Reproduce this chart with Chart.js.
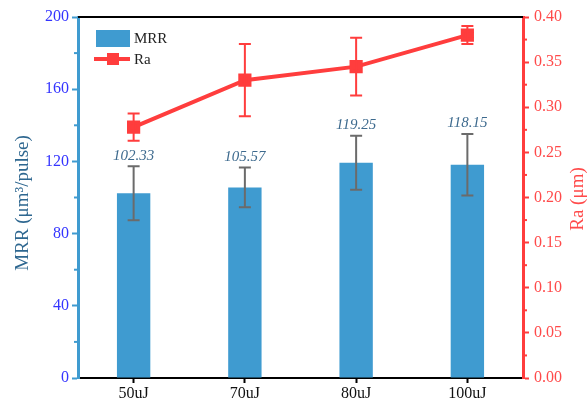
<!DOCTYPE html>
<html><head><meta charset="utf-8">
<script src="https://cdn.jsdelivr.net/npm/chart.js@4"></script>
<style>html,body{margin:0;padding:0;background:#fff}#w{width:587px;height:405px}</style>
</head><body><div id="w"><canvas id="c"></canvas></div>
<script>
const categories = ['50uJ', '70uJ', '80uJ', '100uJ'];
const mrrValues = [102.33, 105.57, 119.25, 118.15];
const mrrErrors = [15, 11, 15, 17];
const raValues = [0.278, 0.330, 0.345, 0.380];
const raErrors = [0.015, 0.040, 0.032, 0.010];
const leftTicks = [0, 40, 80, 120, 160, 200];
const rightTicks = [0, 0.05, 0.10, 0.15, 0.20, 0.25, 0.30, 0.35, 0.40];
const leftTitle = 'MRR (μm³/pulse)';
const rightTitle = 'Ra (μm)';

const FONT = "'Liberation Serif', 'Times New Roman', serif";
const BLUE = '#3f9bd0', RED = '#ff3d3d', LBL = '#3434ff';

const extras = {
  id: 'extras',
  afterDatasetsDraw(chart) {
    const ctx = chart.ctx, ca = chart.chartArea;
    const x = chart.scales.x, y = chart.scales.y, y2 = chart.scales.y2;
    ctx.save();
    // top border
    ctx.strokeStyle = '#000'; ctx.lineWidth = 2;
    ctx.beginPath(); ctx.moveTo(ca.left, ca.top); ctx.lineTo(ca.right, ca.top); ctx.stroke();
    // minor ticks
    ctx.lineWidth = 2;
    ctx.strokeStyle = BLUE;
    for (let i = 0; i < leftTicks.length - 1; i++) {
      const v = (leftTicks[i] + leftTicks[i+1]) / 2, py = y.getPixelForValue(v);
      ctx.beginPath(); ctx.moveTo(ca.left, py); ctx.lineTo(ca.left - 4, py); ctx.stroke();
    }
    ctx.strokeStyle = RED;
    for (let i = 0; i < rightTicks.length - 1; i++) {
      const v = (rightTicks[i] + rightTicks[i+1]) / 2, py = y2.getPixelForValue(v);
      ctx.beginPath(); ctx.moveTo(ca.right, py); ctx.lineTo(ca.right + 4, py); ctx.stroke();
    }
    // MRR error bars
    const cap = 6;
    ctx.strokeStyle = '#6b6b6b'; ctx.lineWidth = 2;
    mrrValues.forEach((v, i) => {
      const px = x.getPixelForValue(i);
      const t = y.getPixelForValue(v + mrrErrors[i]), b = y.getPixelForValue(v - mrrErrors[i]);
      ctx.beginPath();
      ctx.moveTo(px, t); ctx.lineTo(px, b);
      ctx.moveTo(px - cap, t); ctx.lineTo(px + cap, t);
      ctx.moveTo(px - cap, b); ctx.lineTo(px + cap, b);
      ctx.stroke();
      ctx.fillStyle = '#3d6a8e';
      ctx.font = 'italic 15px ' + FONT;
      ctx.textAlign = 'center'; ctx.textBaseline = 'bottom';
      ctx.fillText(v.toFixed(2), px, t - 3);
    });
    // Ra error bars
    ctx.strokeStyle = RED; ctx.lineWidth = 2;
    raValues.forEach((v, i) => {
      const px = x.getPixelForValue(i);
      const t = y2.getPixelForValue(v + raErrors[i]), b = y2.getPixelForValue(v - raErrors[i]);
      ctx.beginPath();
      ctx.moveTo(px, t); ctx.lineTo(px, b);
      ctx.moveTo(px - cap, t); ctx.lineTo(px + cap, t);
      ctx.moveTo(px - cap, b); ctx.lineTo(px + cap, b);
      ctx.stroke();
    });
    // legend
    const lx = ca.left + 18, ly = ca.top + 13;
    ctx.fillStyle = BLUE;
    ctx.fillRect(lx, ly, 34, 17);
    ctx.strokeStyle = RED; ctx.lineWidth = 4;
    ctx.beginPath(); ctx.moveTo(lx - 2, ly + 29); ctx.lineTo(lx + 34, ly + 29); ctx.stroke();
    ctx.fillStyle = RED; ctx.fillRect(lx + 11, ly + 23, 12, 12);
    ctx.fillStyle = '#222'; ctx.font = '15px ' + FONT;
    ctx.textAlign = 'left'; ctx.textBaseline = 'middle';
    ctx.fillText(chart.data.datasets[0].label, lx + 38, ly + 9);
    ctx.fillText(chart.data.datasets[1].label, lx + 38, ly + 30);
    // axis titles
    ctx.textAlign = 'center'; ctx.textBaseline = 'middle';
    ctx.font = '19px ' + FONT;
    ctx.fillStyle = '#2e6790';
    ctx.save(); ctx.translate(23, 203); ctx.rotate(-Math.PI / 2); ctx.fillText(leftTitle, 0, 0); ctx.restore();
    ctx.fillStyle = '#ff4a4a';
    ctx.save(); ctx.translate(578, 199); ctx.rotate(-Math.PI / 2); ctx.fillText(rightTitle, 0, 0); ctx.restore();
    ctx.restore();
  }
};

new Chart(document.getElementById('c'), {
  data: {
    labels: categories,
    datasets: [
      { type: 'bar', label: 'MRR', data: mrrValues, yAxisID: 'y', backgroundColor: BLUE,
        barPercentage: 0.3, categoryPercentage: 1.0, order: 2 },
      { type: 'line', label: 'Ra', data: raValues, yAxisID: 'y2', borderColor: RED, borderWidth: 4,
        pointStyle: 'rect', pointRadius: 6.5, pointBackgroundColor: RED, pointBorderColor: RED,
        tension: 0, order: 1 }
    ]
  },
  options: {
    responsive: true, maintainAspectRatio: false, animation: false,
    layout: { padding: { top: 17, left: 0, right: 0, bottom: 0 } },
    plugins: { legend: { display: false }, tooltip: { enabled: false } },
    scales: {
      x: {
        offset: true,
        grid: { display: true, drawOnChartArea: false, drawTicks: true, tickLength: 5, tickColor: '#000', tickWidth: 2, offset: false },
        border: { color: '#000', width: 2 },
        ticks: { color: '#111', font: { family: FONT, size: 16 }, padding: 1 },
        afterFit(s) { s.height = 27; }
      },
      y: {
        position: 'left', min: 0, max: 200,
        grid: { drawOnChartArea: false, drawTicks: true, tickLength: 6, tickColor: BLUE, tickWidth: 2 },
        border: { color: BLUE, width: 3 },
        ticks: { stepSize: 40, color: LBL, font: { family: FONT, size: 16 }, padding: 3 },
        afterFit(s) { s.width = 78; }
      },
      y2: {
        position: 'right', min: 0, max: 0.4,
        grid: { drawOnChartArea: false, drawTicks: true, tickLength: 6, tickColor: RED, tickWidth: 2 },
        border: { color: RED, width: 3 },
        ticks: { stepSize: 0.05, color: '#ff4a4a', font: { family: FONT, size: 16 }, padding: 5,
          callback: v => Number(v).toFixed(2) },
        afterFit(s) { s.width = 64; }
      }
    }
  },
  plugins: [extras]
});
</script>
</body></html>
